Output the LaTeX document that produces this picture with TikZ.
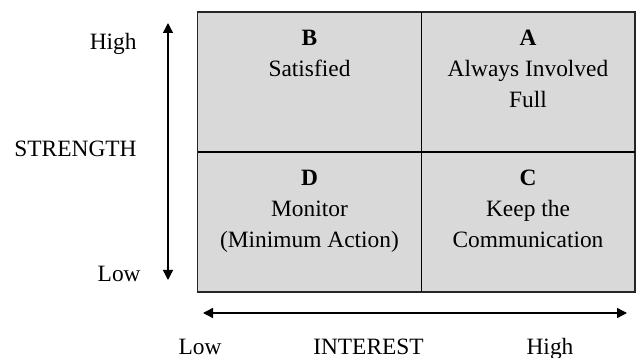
\documentclass[tikz,border=0pt]{standalone}
\usepackage{fontspec}
\setmainfont{Liberation Serif}
\usetikzlibrary{arrows.meta}

\begin{document}
\begin{tikzpicture}[x=0.5pt,y=-0.5pt,
            lbl/.style={inner sep=0pt,font=\fontsize{11.7}{15.5}\selectfont},
            cell/.style={lbl,anchor=north,align=center},
            axis/.style={line width=.7pt,black,{Triangle[length=5pt,width=5pt]}-{Triangle[length=5pt,width=5pt]}}]
            \useasboundingbox (0,0) rectangle (639,358);
            \coordinate (nw) at (197.5,12);
            \coordinate (se) at (635,292);
            \coordinate (n) at (421.3,12);
            \coordinate (s) at (421.3,292);
            \coordinate (w) at (197.5,152);
            \coordinate (e) at (635,152);

            \draw [line width=.8pt,black!85,fill=black!15] (nw) rectangle (se);
            \draw [line width=.7pt,black] (n) -- (s);
            \draw [line width=.7pt,black] (w) -- (e);

            \node[cell] (B) at (309.5,30) {\textbf{B}\\Satisfied};
            \node[cell] (A) at (528,30) {\textbf{A}\\Always Involved\\Full};
            \node[cell] (D) at (309.5,170) {\textbf{D}\\Monitor\\(Minimum Action)};
            \node[cell] (C) at (528,170) {\textbf{C}\\Keep the\\Communication};

            \node[lbl,anchor=base east] (strhigh) at (137,50) {High};
            \node[lbl,anchor=base east] (strength) at (137,157) {STRENGTH};
            \node[lbl,anchor=base east] (strlow) at (141,282) {Low};
            \node[lbl,anchor=base] (intlow) at (200,354.5) {Low};
            \node[lbl,anchor=base] (interest) at (368.5,354.5) {INTEREST};
            \node[lbl,anchor=base] (inthigh) at (550,354.5) {High};

            \coordinate (strtop) at (168,23);
            \coordinate (strbot) at (168,280);
            \coordinate (intleft) at (203,313);
            \coordinate (intright) at (627,313);
            \draw [axis] (strbot) -- (strtop);
            \draw [axis] (intleft) -- (intright);
        \end{tikzpicture}
\end{document}
